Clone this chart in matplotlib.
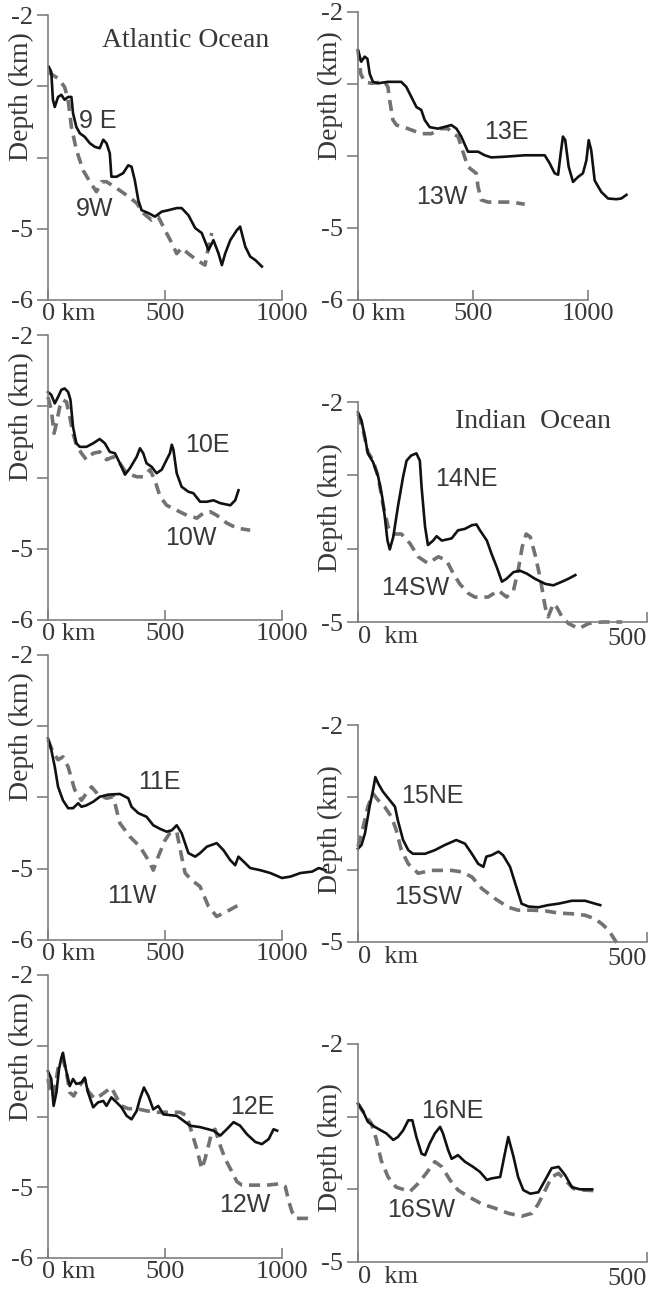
import matplotlib
matplotlib.use("Agg")
import matplotlib.pyplot as plt

plt.rcParams["lines.scale_dashes"] = False

# ---- bathymetry profiles: distance (km) and depth (km) ----
# Atlantic Ocean
km_9e = [4, 14, 21, 29, 43, 57, 71, 86, 100, 107, 121, 136, 157, 179, 200, 221, 236, 250, 264, 271, 293, 321, 343,
         357, 371, 386, 400, 429, 457, 486, 514, 550, 571, 600, 629, 657, 686, 707, 729, 743, 757, 779, 807, 821,
         843, 864, 886, 914]
d_9e = [-2.73, -2.80, -3.19, -3.29, -3.15, -3.12, -3.19, -3.15, -3.15, -3.38, -3.57, -3.66, -3.71, -3.80, -3.85,
        -3.87, -3.75, -3.80, -3.94, -4.27, -4.27, -4.22, -4.11, -4.13, -4.32, -4.60, -4.74, -4.78, -4.83, -4.76,
        -4.74, -4.71, -4.71, -4.81, -4.99, -5.06, -5.30, -5.16, -5.35, -5.51, -5.35, -5.16, -5.02, -4.97, -5.25,
        -5.39, -5.44, -5.53]
km_9w = [0, 43, 71, 86, 100, 121, 150, 179, 207, 229, 250, 293, 336, 379, 407, 443, 471, 500, 529, 550, 571, 600,
         636, 671, 686, 700]
d_9w = [-2.80, -2.89, -3.01, -3.19, -3.57, -3.89, -4.18, -4.34, -4.48, -4.34, -4.34, -4.43, -4.53, -4.64, -4.78,
        -4.88, -4.83, -5.02, -5.20, -5.35, -5.27, -5.35, -5.44, -5.51, -5.25, -5.06]

km_10e = [0, 14, 29, 43, 57, 71, 86, 96, 107, 121, 136, 164, 193, 221, 243, 264, 286, 307, 329, 350, 379, 393, 407,
          421, 443, 464, 486, 507, 521, 529, 536, 550, 571, 600, 621, 650, 679, 707, 736, 779, 800, 814]
d_10e = [-2.80, -2.84, -2.96, -2.87, -2.77, -2.75, -2.80, -2.91, -3.29, -3.52, -3.57, -3.57, -3.52, -3.46, -3.52,
         -3.64, -3.66, -3.80, -3.96, -3.87, -3.71, -3.59, -3.66, -3.80, -3.85, -3.94, -3.89, -3.75, -3.66, -3.54,
         -3.61, -3.94, -4.13, -4.20, -4.22, -4.34, -4.34, -4.32, -4.36, -4.39, -4.32, -4.18]
km_10w = [0, 14, 26, 36, 50, 64, 79, 93, 107, 121, 143, 164, 193, 221, 250, 279, 307, 336, 379, 407, 436, 457, 479,
          507, 550, 593, 636, 664, 693, 721, 764, 807, 864]
d_10w = [-2.87, -3.05, -3.38, -3.24, -3.01, -2.91, -2.94, -3.15, -3.38, -3.54, -3.66, -3.75, -3.66, -3.64, -3.75,
         -3.71, -3.80, -3.94, -3.99, -3.99, -3.89, -4.04, -4.27, -4.39, -4.46, -4.53, -4.57, -4.50, -4.48, -4.53,
         -4.64, -4.71, -4.74]

km_11e = [0, 14, 29, 43, 64, 86, 107, 129, 143, 164, 193, 221, 257, 307, 343, 357, 386, 421, 450, 479, 507, 529,
          550, 571, 600, 629, 650, 679, 721, 750, 779, 800, 814, 836, 864, 907, 950, 1000, 1036, 1079, 1129, 1157,
          1186]
d_11e = [-3.17, -3.33, -3.57, -3.85, -4.04, -4.15, -4.15, -4.08, -4.13, -4.11, -4.06, -3.99, -3.96, -3.95, -4.01,
         -4.13, -4.22, -4.27, -4.39, -4.44, -4.48, -4.46, -4.39, -4.50, -4.78, -4.83, -4.78, -4.69, -4.64, -4.74,
         -4.88, -4.95, -4.83, -4.90, -4.99, -5.02, -5.06, -5.13, -5.11, -5.06, -5.04, -4.99, -5.02]
km_11w = [0, 21, 43, 64, 86, 114, 143, 164, 186, 214, 250, 279, 307, 350, 393, 429, 450, 471, 500, 521, 550, 571,
          586, 614, 650, 686, 721, 764, 814]
d_11w = [-3.19, -3.36, -3.47, -3.43, -3.57, -3.89, -4.04, -3.94, -3.85, -3.96, -4.01, -3.99, -4.36, -4.55, -4.69,
         -4.88, -5.02, -4.83, -4.60, -4.50, -4.48, -4.83, -5.06, -5.16, -5.25, -5.53, -5.67, -5.60, -5.51]

km_12e = [0, 14, 24, 36, 47, 57, 64, 76, 93, 107, 121, 143, 157, 171, 193, 214, 236, 250, 271, 293, 314, 336, 357,
          379, 393, 410, 429, 450, 471, 493, 521, 550, 579, 607, 650, 707, 736, 764, 793, 821, 850, 886, 914, 943,
          964, 979]
d_12e = [-3.36, -3.47, -3.85, -3.66, -3.33, -3.17, -3.10, -3.33, -3.57, -3.47, -3.54, -3.52, -3.45, -3.66, -3.87,
         -3.80, -3.78, -3.85, -3.73, -3.80, -3.87, -3.99, -4.04, -3.92, -3.75, -3.59, -3.71, -3.90, -3.85, -3.97,
         -3.98, -3.99, -4.06, -4.13, -4.15, -4.20, -4.27, -4.18, -4.08, -4.13, -4.25, -4.36, -4.39, -4.32, -4.18,
         -4.20]
km_12w = [0, 7, 21, 33, 47, 64, 79, 93, 110, 129, 157, 171, 200, 221, 250, 271, 293, 314, 343, 379, 421, 464, 507,
          564, 593, 614, 636, 657, 671, 686, 700, 714, 736, 757, 786, 807, 829, 879, 936, 993, 1014, 1029, 1043, 1057,
          1079, 1107, 1136]
d_12w = [-3.47, -3.61, -3.71, -3.52, -3.24, -3.19, -3.38, -3.66, -3.71, -3.59, -3.47, -3.64, -3.75, -3.71, -3.64,
         -3.59, -3.73, -3.85, -3.89, -3.89, -3.92, -3.94, -3.94, -3.94, -3.99, -4.22, -4.46, -4.74, -4.60, -4.41,
         -4.22, -4.18, -4.41, -4.60, -4.78, -4.92, -4.97, -4.97, -4.97, -4.95, -4.99, -5.20, -5.35, -5.44, -5.44,
         -5.44, -5.46]

km_13e = [0, 14, 29, 41, 51, 65, 87, 130, 188, 210, 232, 254, 275, 290, 312, 348, 406, 428, 449, 478, 522, 551, 580,
          638, 725, 812, 833, 855, 870, 881, 891, 901, 916, 935, 957, 978, 993, 1003, 1014, 1029, 1058, 1087, 1123,
          1145, 1167]
d_13e = [-2.53, -2.69, -2.62, -2.65, -2.86, -2.97, -2.99, -2.97, -2.97, -3.04, -3.18, -3.32, -3.36, -3.50, -3.60,
         -3.62, -3.57, -3.62, -3.73, -3.94, -3.94, -3.99, -4.02, -4.01, -3.99, -3.99, -4.10, -4.24, -4.26, -3.97,
         -3.73, -3.78, -4.15, -4.36, -4.29, -4.24, -4.06, -3.78, -3.92, -4.34, -4.50, -4.59, -4.60, -4.59, -4.54]
km_13w = [0, 12, 29, 58, 116, 130, 138, 152, 167, 217, 275, 319, 355, 391, 413, 435, 449, 478, 514, 522, 536, 565,
          609, 667, 725]
d_13w = [-2.53, -2.86, -2.97, -2.99, -2.97, -3.04, -3.23, -3.50, -3.57, -3.62, -3.69, -3.69, -3.62, -3.62, -3.69,
         -3.73, -3.87, -4.15, -4.24, -4.43, -4.61, -4.64, -4.64, -4.64, -4.67]

# Indian Ocean
km_14ne = [0, 6, 12, 17, 26, 35, 42, 47, 51, 55, 61, 69, 78, 84, 92, 101, 107, 110, 116, 121, 130, 136, 145, 162,
           173, 185, 197, 205, 211, 223, 231, 240, 249, 257, 269, 280, 292, 306, 324, 338, 353, 364, 376]
d_14ne = [-2.14, -2.25, -2.48, -2.70, -2.82, -3.02, -3.30, -3.61, -3.89, -4.01, -3.84, -3.43, -3.02, -2.80, -2.73,
          -2.70, -2.80, -3.16, -3.70, -3.95, -3.89, -3.83, -3.89, -3.86, -3.75, -3.73, -3.68, -3.67, -3.75, -3.89,
          -4.07, -4.25, -4.45, -4.41, -4.32, -4.30, -4.34, -4.41, -4.48, -4.50, -4.45, -4.41, -4.36]
km_14sw = [0, 9, 17, 26, 35, 43, 52, 61, 75, 90, 104, 121, 139, 153, 165, 176, 191, 202, 225, 243, 257, 269, 277,
           284, 291, 298, 306, 315, 324, 329, 338, 344, 353, 364, 382, 399, 422, 457]
d_14sw = [-2.16, -2.39, -2.68, -2.80, -3.02, -3.39, -3.70, -3.80, -3.80, -3.93, -4.11, -4.20, -4.11, -4.16, -4.34,
          -4.48, -4.61, -4.66, -4.66, -4.57, -4.66, -4.57, -4.30, -3.98, -3.80, -3.84, -4.07, -4.39, -4.80, -4.93,
          -4.75, -4.80, -4.93, -5.02, -5.09, -5.02, -5.00, -5.00]

km_15ne = [0, 6, 12, 20, 26, 30, 35, 43, 55, 64, 69, 78, 87, 95, 116, 133, 150, 170, 185, 197, 208, 217, 222, 231,
           243, 251, 263, 272, 283, 295, 312, 329, 347, 370, 393, 410, 419]
d_15ne = [-3.71, -3.66, -3.50, -3.13, -2.90, -2.72, -2.81, -2.92, -3.04, -3.13, -3.32, -3.59, -3.73, -3.78, -3.78,
          -3.73, -3.66, -3.59, -3.64, -3.78, -3.92, -3.96, -3.82, -3.80, -3.75, -3.80, -3.96, -4.19, -4.47, -4.51,
          -4.52, -4.49, -4.47, -4.43, -4.43, -4.47, -4.49]
km_15sw = [0, 9, 17, 26, 35, 46, 58, 66, 75, 87, 104, 127, 162, 179, 197, 214, 237, 260, 277, 301, 324, 347, 370,
           393, 410, 422, 434, 445, 451]
d_15sw = [-3.68, -3.41, -3.13, -2.95, -3.04, -3.13, -3.27, -3.45, -3.73, -3.92, -4.05, -4.01, -4.01, -4.03, -4.10,
          -4.26, -4.40, -4.52, -4.56, -4.56, -4.57, -4.60, -4.61, -4.63, -4.68, -4.75, -4.84, -4.98, -5.05]

km_16ne = [0, 9, 17, 29, 40, 49, 61, 69, 78, 87, 94, 101, 110, 116, 124, 133, 142, 147, 156, 162, 173, 185, 199,
           211, 223, 231, 246, 254, 260, 269, 277, 286, 298, 312, 324, 335, 347, 358, 370, 384, 405]
d_16ne = [-2.82, -2.93, -3.07, -3.14, -3.19, -3.23, -3.32, -3.28, -3.19, -3.05, -3.05, -3.28, -3.51, -3.53, -3.37,
          -3.23, -3.14, -3.23, -3.46, -3.58, -3.53, -3.62, -3.69, -3.76, -3.87, -3.85, -3.83, -3.51, -3.28, -3.55,
          -3.83, -4.01, -4.06, -4.04, -3.87, -3.71, -3.69, -3.80, -3.97, -4.00, -4.00]
km_16sw = [0, 14, 23, 32, 40, 52, 66, 90, 104, 118, 133, 145, 159, 173, 191, 214, 237, 260, 283, 301, 312, 324, 335,
           347, 358, 373, 390, 413]
d_16sw = [-2.82, -3.00, -3.09, -3.32, -3.60, -3.83, -3.97, -4.03, -3.92, -3.78, -3.62, -3.69, -3.87, -4.01, -4.10,
          -4.20, -4.26, -4.33, -4.37, -4.33, -4.20, -4.01, -3.83, -3.78, -3.87, -3.99, -4.01, -4.02]

SERIF = "Liberation Serif"
SANS = "Liberation Sans"
axis_grey = "#7f7f7f"
text_col = "#383838"
solid_col = "#111111"
dash_col = "#727272"

W, H = 650, 1289
fig = plt.figure(figsize=(W / 100, H / 100), dpi=100)


def px(x, y):
    return x / W, 1 - y / H


def panel(left, right, top, bottom, xmax, ymin, solid, dashed, labels, zero_label="0 km"):
    ax = fig.add_axes([left / W, 1 - bottom / H, (right - left) / W, (bottom - top) / H])
    ax.patch.set_alpha(0)
    ax.set_xlim(0, xmax)
    ax.set_ylim(ymin, -2)
    for s in ("top", "right"):
        ax.spines[s].set_visible(False)
    for s in ("left", "bottom"):
        ax.spines[s].set_color(axis_grey)
        ax.spines[s].set_linewidth(1.2)

    yt = list(range(-2, ymin - 1, -1))
    ax.set_yticks(yt)
    ax.set_yticklabels([str(v) if v in (-2, -5, -6) else "" for v in yt],
                       fontfamily=SERIF, fontsize=19, color=text_col)
    ax.tick_params(axis="y", direction="out", length=8, width=1.2, color=axis_grey, pad=3)

    if xmax == 1000:
        ax.set_xticks([0, 500, 1000])
        ax.set_xticklabels(["", "500", "1000"], fontfamily=SERIF, fontsize=19, color=text_col)
        ax.tick_params(axis="x", direction="in", length=7, width=1.2, color=axis_grey, pad=2)
        ax.annotate(zero_label, xy=(0, ymin), xytext=(-4, -2), textcoords="offset points",
                    ha="left", va="top", fontfamily=SERIF, fontsize=19, color=text_col)
    else:
        ax.set_xticks([0, 500])
        ax.set_xticklabels(["", "500"], fontfamily=SERIF, fontsize=19, color=text_col)
        ax.get_xticklabels()[1].set_ha("right")
        ax.tick_params(axis="x", direction="in", length=7, width=1.2, color=axis_grey, pad=4)
        ax.annotate(zero_label, xy=(0, ymin), xytext=(0, -3), textcoords="offset points",
                    ha="left", va="top", fontfamily=SERIF, fontsize=19, color=text_col)

    ax.plot(dashed[0], dashed[1], color=dash_col, lw=2.6, dashes=(8, 5), clip_on=False)
    ax.plot(solid[0], solid[1], color=solid_col, lw=1.9, clip_on=False)

    for txt, x, y in labels:
        ax.text(x, y, txt, ha="center", va="center", fontfamily=SANS, fontsize=18, color=text_col)
    return ax


# left column: Atlantic Ocean
a9 = panel(48, 282, 15, 300, 1000, -6, (km_9e, d_9e), (km_9w, d_9w),
           [("9 E", 214, -3.49), ("9W", 201, -4.72)])
a9.text(590, -2.36, "Atlantic Ocean", ha="center", va="center", fontfamily=SERIF, fontsize=20, color=text_col)
panel(48, 282, 335, 620, 1000, -6, (km_10e, d_10e), (km_10w, d_10w),
      [("10E", 679, -3.54), ("10W", 611, -4.85)])
panel(48, 282, 655, 940, 1000, -6, (km_11e, d_11e), (km_11w, d_11w),
      [("11E", 474, -3.78), ("11W", 359, -5.38)])
panel(48, 282, 975, 1258, 1000, -6, (km_12e, d_12e), (km_12w, d_12w),
      [("12E", 872, -3.87), ("12W", 842, -5.25)])

# right column
panel(358, 588, 12, 300, 1000, -6, (km_13e, d_13e), (km_13w, d_13w),
      [("13E", 643, -3.67), ("13W", 365, -4.57)])
a14 = panel(358, 647, 402, 622, 500, -5, (km_14ne, d_14ne), (km_14sw, d_14sw),
            [("14NE", 187, -3.05), ("14SW", 99, -4.54)], zero_label="0  km")
a14.text(303, -2.27, "Indian  Ocean", ha="center", va="center", fontfamily=SERIF, fontsize=20, color=text_col)
panel(358, 647, 725, 942, 500, -5, (km_15ne, d_15ne), (km_15sw, d_15sw),
      [("15NE", 128, -2.98), ("15SW", 121, -4.38)], zero_label="0  km")
panel(358, 647, 1044, 1262, 500, -5, (km_16ne, d_16ne), (km_16sw, d_16sw),
      [("16NE", 163, -2.92), ("16SW", 109, -4.28)], zero_label="0  km")

# y axis titles
for x, y in [(21, 97), (21, 417), (21, 737), (21, 1057), (330, 96), (330, 508), (330, 830), (330, 1148)]:
    fx, fy = px(x, y)
    fig.text(fx, fy, "Depth (km)", rotation=90, ha="center", va="center",
             fontfamily=SERIF, fontsize=20, color=text_col)

fig.savefig("out.png", dpi=100)
